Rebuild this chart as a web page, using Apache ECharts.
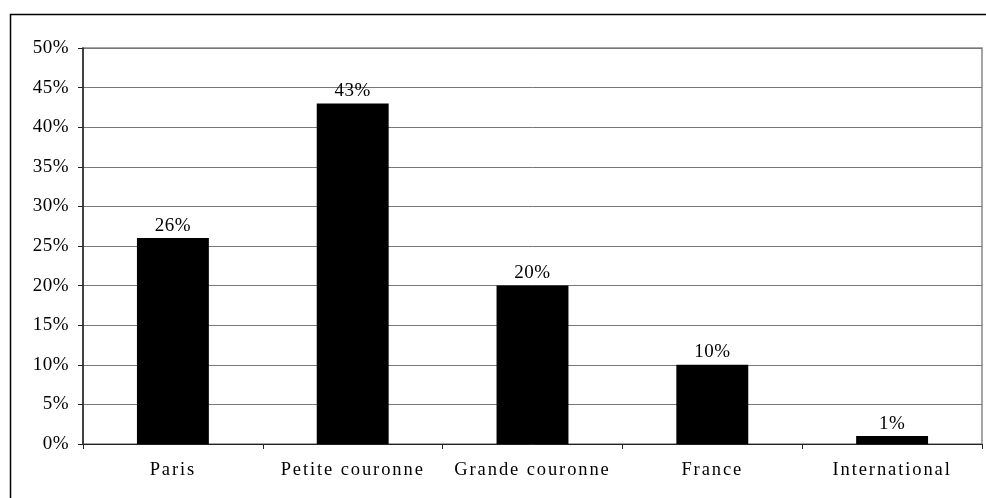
<!DOCTYPE html>
<html><head><meta charset="utf-8">
<script src="https://cdn.jsdelivr.net/npm/echarts@6/dist/echarts.min.js"></script>
<style>html,body{margin:0;padding:0;background:#fff}#c{width:986px;height:498px}</style>
</head><body><div id="c"></div>
<script>
const categories = ["Paris", "Petite couronne", "Grande couronne", "France", "International"];
const values = [26, 43, 20, 10, 1];
const yTicks = [0, 5, 10, 15, 20, 25, 30, 35, 40, 45, 50];

// letter spacing for the canvas text (the reference text is spaced out)
(function () {
  const P = CanvasRenderingContext2D.prototype;
  const orig = P.fillText;
  P.fillText = function (t, x, y, w) {
    if ('letterSpacing' in this) {
      this.letterSpacing = /18\.5px/.test(this.font) ? '1.9px' : '0.5px';
    }
    const r = w === undefined ? orig.call(this, t, x, y) : orig.call(this, t, x, y, w);
    if ('letterSpacing' in this) this.letterSpacing = '0px';
    return r;
  };
})();

const chart = echarts.init(document.getElementById('c'));
const font = '"Liberation Serif", "Times New Roman", serif';
chart.setOption({
  animation: false,
  graphic: [{
    type: 'rect', shape: {x: 10.5, y: 14.5, width: 1000, height: 600},
    style: {fill: 'none', stroke: '#000', lineWidth: 1.5}, silent: true
  }],
  grid: {left: 83, right: 4, top: 48, bottom: 54, show: true, borderColor: '#888', borderWidth: 1.5},
  xAxis: {
    type: 'category', data: categories,
    axisLine: {lineStyle: {color: '#222', width: 1}},
    axisTick: {show: true, length: 5, alignWithLabel: false, lineStyle: {color: '#222'}},
    axisLabel: {color: '#000', fontFamily: font, fontSize: 18.5, margin: 17, interval: 0}
  },
  yAxis: {
    type: 'value', min: yTicks[0], max: yTicks[yTicks.length - 1], interval: 5,
    axisLine: {show: true, lineStyle: {color: '#222', width: 1.5}},
    axisTick: {show: true, length: 5, lineStyle: {color: '#222'}},
    splitLine: {lineStyle: {color: '#777', width: 1}},
    axisLabel: {color: '#000', fontFamily: font, fontSize: 19, margin: 14, formatter: v => v + '%'}
  },
  series: [{
    type: 'bar', data: values, barWidth: '40%',
    itemStyle: {color: '#000'},
    label: {show: true, position: 'top', distance: 3, color: '#000', fontFamily: font, fontSize: 19, formatter: p => p.value + '%'}
  }]
});
</script></body></html>
